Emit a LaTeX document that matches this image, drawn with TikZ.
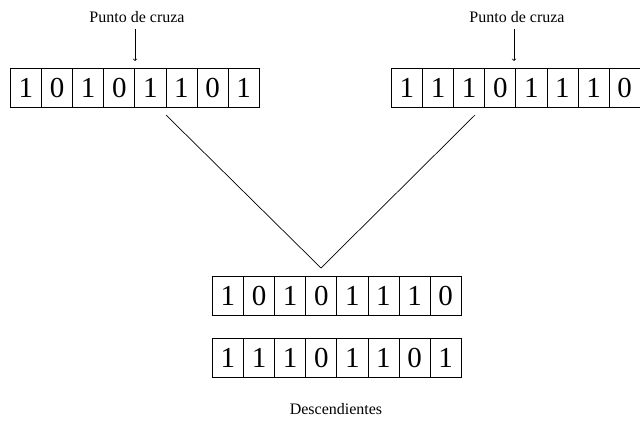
\documentclass[tikz,border=0pt]{standalone}
\usepackage{fontspec}
\setmainfont{Liberation Serif}
\begin{document}
\begin{tikzpicture}[x=1pt,y=-1pt,
  cell/.style={draw,line width=0.8pt,minimum width=31.1pt,minimum height=39pt,inner sep=0pt,anchor=north west,font=\fontsize{29}{29}\selectfont},
  lbl/.style={font=\fontsize{16}{16}\selectfont},
  conn/.style={line width=0.7pt}]
\useasboundingbox (0,0) rectangle (640,431);
\newcommand{\bitrow}[4]{%
  \foreach \b [count=\i from 0] in {#4} {
    \node[cell] (#1\i) at ({#2+\i*31.1},#3) {\b};
  }}
\bitrow{a}{10}{68}{1,0,1,0,1,1,0,1}
\bitrow{b}{391}{68}{1,1,1,0,1,1,1,0}
\bitrow{c}{212}{276}{1,0,1,0,1,1,1,0}
\bitrow{d}{212}{338}{1,1,1,0,1,1,0,1}
\node[lbl] (la) at (137,17) {Punto de cruza};
\node[lbl] (lb) at (517,17) {Punto de cruza};
\node[lbl] (ld) at (336,409) {Descendientes};
\coordinate (v) at (321,268);
\coordinate (p1) at (166,115);
\coordinate (p2) at (475,115);
\draw[conn] (p1) -- (v) -- (p2);
\draw[conn,->] (la.south -| 135,0) ++(0,3) -- (135,61);
\draw[conn,->] (lb.south -| 514,0) ++(0,3) -- (514,61);
\end{tikzpicture}
\end{document}
